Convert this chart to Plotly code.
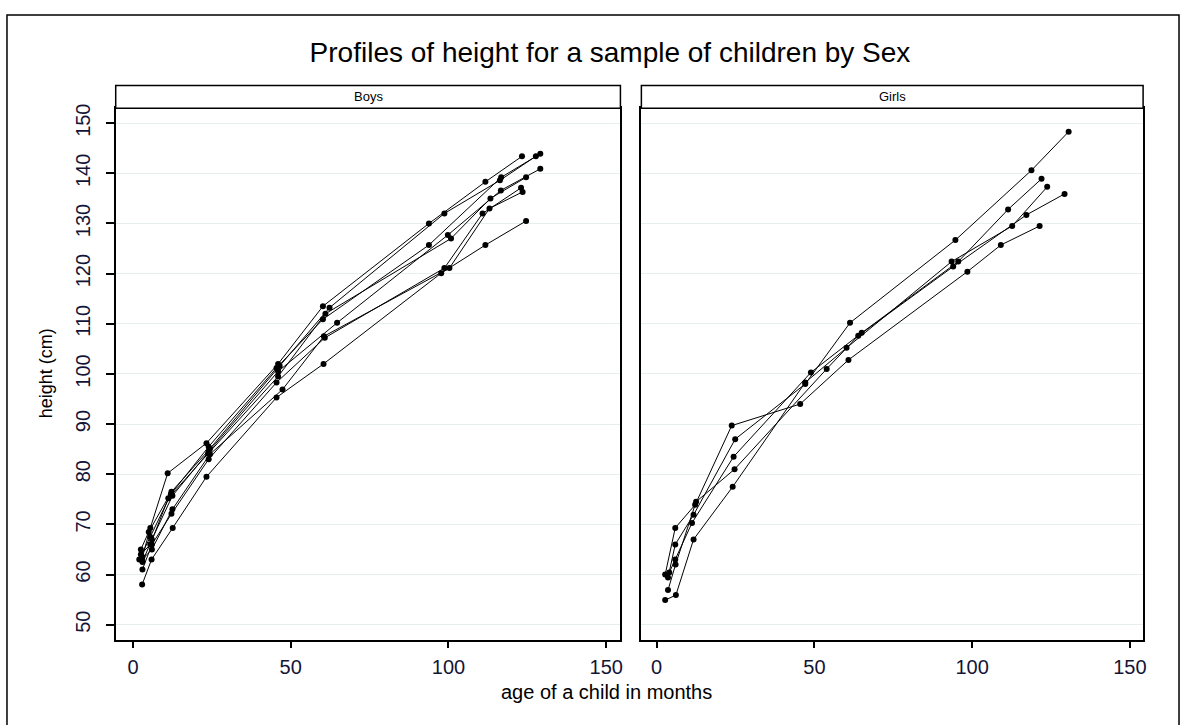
import plotly.graph_objects as go

# ---------------- data (age in months, height in cm), one list per child ----------------
boys_ages = [
    [3.0, 5.5, 11.0, 23.3, 46.0, 60.2, 93.8, 111.7, 123.3],
    [2.5, 5.0, 12.2, 24.4, 46.5, 62.3, 98.7, 116.3, 127.7],
    [2.0, 5.5, 12.0, 24.0, 45.5, 60.2, 93.8, 116.7, 129.1],
    [3.0, 6.0, 12.5, 24.0, 46.0, 64.7, 99.8, 116.6, 129.1],
    [2.5, 5.5, 11.2, 23.8, 46.0, 61.0, 100.8, 113.3, 124.6],
    [3.0, 6.0, 12.2, 24.0, 45.5, 60.8, 98.7, 110.8, 123.0],
    [2.9, 6.0, 12.5, 24.4, 47.4, 60.5, 100.3, 113.0, 123.5],
    [2.9, 5.9, 12.6, 23.3, 45.5, 60.4, 97.7, 111.7, 124.6],
]
boys_heights = [
    [63.5, 69.3, 80.2, 86.2, 102.0, 113.5, 130.0, 138.3, 143.4],
    [65.0, 68.5, 76.5, 85.1, 101.6, 113.2, 132.0, 138.6, 143.4],
    [63.0, 67.5, 76.0, 85.5, 101.2, 110.9, 125.7, 139.2, 143.9],
    [62.5, 67.0, 75.7, 84.5, 100.5, 110.2, 127.7, 136.6, 140.9],
    [64.0, 66.0, 75.2, 84.1, 99.5, 112.0, 127.0, 135.0, 139.2],
    [61.0, 66.0, 72.1, 83.0, 98.3, 107.2, 121.1, 132.0, 137.1],
    [63.0, 65.0, 73.0, 84.0, 96.9, 107.5, 121.1, 133.0, 136.3],
    [58.0, 63.0, 69.3, 79.5, 95.3, 102.0, 120.1, 125.7, 130.5],
]
girls_ages = [
    [2.7, 5.9, 12.2, 23.8, 45.5, 60.8, 98.5, 109.1, 121.4],
    [3.6, 5.9, 11.7, 24.9, 47.1, 61.3, 94.7, 118.8, 130.6],
    [4.0, 5.9, 11.2, 24.4, 48.9, 65.0, 95.6, 111.4, 122.0],
    [2.7, 6.1, 11.7, 24.1, 47.1, 60.2, 93.5, 112.7, 123.8],
    [3.6, 6.0, 12.5, 24.7, 53.9, 63.9, 94.0, 117.2, 129.3],
]
girls_heights = [
    [60.0, 69.3, 73.9, 89.7, 94.0, 102.8, 120.4, 125.7, 129.5],
    [59.4, 66.0, 71.9, 87.0, 98.0, 110.2, 126.7, 140.6, 148.3],
    [60.4, 63.0, 70.3, 83.5, 100.3, 108.2, 122.4, 132.8, 138.9],
    [54.9, 55.9, 67.0, 77.5, 98.3, 105.2, 122.4, 129.5, 137.3],
    [56.9, 62.0, 74.5, 81.0, 101.0, 107.6, 121.4, 131.7, 135.9],
]
panel_labels = ["Boys", "Girls"]
x_ticks = [0, 50, 100, 150]
y_ticks = [50, 60, 70, 80, 90, 100, 110, 120, 130, 140, 150]

W, H = 1187, 725
FONT = "Liberation Sans, Arial, sans-serif"
TICKCOL = "#141436"

fig = go.Figure()
for ages, hts in zip(boys_ages, boys_heights):
    fig.add_trace(go.Scatter(x=ages, y=hts, mode="lines+markers", xaxis="x", yaxis="y",
                             line=dict(color="black", width=1),
                             marker=dict(color="black", size=6), showlegend=False))
for ages, hts in zip(girls_ages, girls_heights):
    fig.add_trace(go.Scatter(x=ages, y=hts, mode="lines+markers", xaxis="x2", yaxis="y2",
                             line=dict(color="black", width=1),
                             marker=dict(color="black", size=6), showlegend=False))

# pixel geometry
bx0, bx1 = 116, 622
gx0, gx1 = 643, 1146
py_top, py_bot = 104, 639
strip_top = 81

def px(x):
    return x / W

def py(y):
    return 1 - y / H

yrange = [47.03, 152.97]
grid = "#E6EEF0"
common_x = dict(tickvals=x_ticks, ticks="outside", ticklen=6, tickwidth=1.5, tickcolor="black",
                showline=True, linewidth=2, linecolor="black", mirror=True,
                showgrid=False, zeroline=False, ticklabelstandoff=2,
                tickfont=dict(family=FONT, size=20, color=TICKCOL))
common_y = dict(range=yrange, tickvals=y_ticks, showgrid=True, gridcolor=grid, gridwidth=1,
                showline=True, linewidth=2, linecolor="black", mirror=True, zeroline=False,
                domain=[py(py_bot), py(py_top)])

fig.update_layout(
    width=W, height=H, autosize=False,
    margin=dict(l=0, r=0, t=0, b=0),
    paper_bgcolor="white", plot_bgcolor="white",
    font=dict(family=FONT, color="black"),
    xaxis=dict(domain=[px(bx0), px(bx1)], range=[-5.47, 154.5], anchor="y", **common_x),
    xaxis2=dict(domain=[px(gx0), px(gx1)], range=[-4.84, 154.2], anchor="y2", **common_x),
    yaxis=dict(anchor="x", ticks="outside", ticklen=8, tickwidth=1.5, tickcolor="black",
               tickangle=-90, ticklabelstandoff=8,
               tickfont=dict(family=FONT, size=20, color=TICKCOL), **common_y),
    yaxis2=dict(anchor="x2", matches="y", showticklabels=False, ticks="", **common_y),
    title=dict(text="Profiles of height for a sample of children by Sex",
               x=610 / W, y=py(52), xanchor="center", yanchor="middle",
               font=dict(family=FONT, size=28, color="black")),
)

shapes = [
    # outer frame
    dict(type="rect", xref="paper", yref="paper", x0=px(7), x1=px(1182), y0=-0.05, y1=py(10),
         line=dict(color="black", width=1.5), fillcolor="rgba(0,0,0,0)", layer="below"),
]
annotations = []
for (x0, x1), lab in zip([(bx0, bx1), (gx0, gx1)], panel_labels):
    shapes.append(dict(type="rect", xref="paper", yref="paper", x0=px(x0), x1=px(x1),
                       y0=py(py_top), y1=py(strip_top), line=dict(color="black", width=1.5),
                       fillcolor="white"))
    annotations.append(dict(text=lab, xref="paper", yref="paper", x=px((x0 + x1) / 2),
                            y=py(92.5), xanchor="center", yanchor="middle", showarrow=False,
                            font=dict(family=FONT, size=13, color="black")))

annotations.append(dict(text="age of a child in months", xref="paper", yref="paper",
                        x=px(608), y=py(692), xanchor="center", yanchor="middle",
                        showarrow=False, font=dict(family=FONT, size=20, color="black")))
annotations.append(dict(text="height (cm)", xref="paper", yref="paper",
                        x=px(47), y=py(371), xanchor="center", yanchor="middle",
                        textangle=-90, showarrow=False,
                        font=dict(family=FONT, size=18, color="black")))

fig.update_layout(shapes=shapes, annotations=annotations)
fig.write_html("out.html")
